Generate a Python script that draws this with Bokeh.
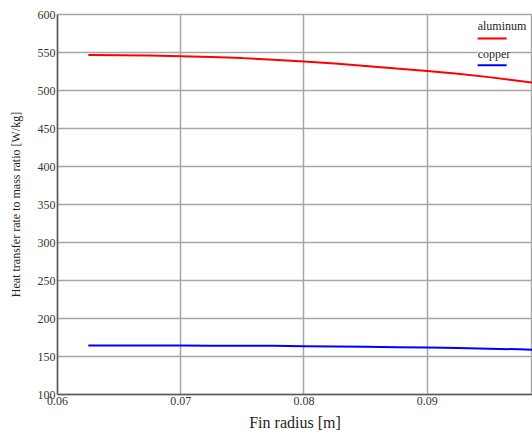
from bokeh.plotting import figure
from bokeh.models import Range1d, FixedTicker, Label
from bokeh.embed import file_html
from bokeh.resources import INLINE

# Data
radius = [0.0625, 0.065, 0.0675, 0.07, 0.0725, 0.075, 0.0775, 0.08, 0.0825,
          0.085, 0.0875, 0.09, 0.0925, 0.095, 0.0975, 0.1]
aluminum = [546.6, 546.4, 545.9, 545.2, 544.1, 542.6, 540.6, 538.2, 535.4,
            532.2, 528.8, 525.8, 522.0, 517.6, 512.6, 507.2]
copper = [164.6, 164.6, 164.5, 164.4, 164.3, 164.2, 164.0, 163.6, 163.2,
          162.8, 162.3, 161.8, 161.1, 160.3, 159.4, 158.4]

x_ticks = [0.06, 0.07, 0.08, 0.09]
y_ticks = [100, 150, 200, 250, 300, 350, 400, 450, 500, 550, 600]
series_names = ["aluminum", "copper"]
series_colors = ["#ff0000", "#0000ff"]

FONT = "Liberation Serif"
X0, X1 = 0.06, 0.09854
Y0, Y1 = 100, 600

p = figure(width=532, height=436, output_backend="svg", toolbar_location=None,
           x_range=Range1d(X0, X1), y_range=Range1d(Y0, Y1),
           min_border_left=57, min_border_right=0, min_border_top=14,
           min_border_bottom=42)

p.line(radius, aluminum, line_color=series_colors[0], line_width=2)
p.line(radius, copper, line_color=series_colors[1], line_width=2)

# axes
p.xaxis.ticker = FixedTicker(ticks=x_ticks)
p.yaxis.ticker = FixedTicker(ticks=y_ticks)
p.xaxis.axis_label = "Fin radius [m]"
p.yaxis.axis_label = "Heat transfer rate to mass ratio [W/kg]"
for ax in (p.xaxis, p.yaxis):
    ax.axis_label_text_font = FONT
    ax.axis_label_text_font_style = "normal"
    ax.axis_label_text_color = "#1e1e1e"
    ax.major_label_text_font = FONT
    ax.major_label_text_font_size = "12px"
    ax.major_label_text_color = "#3a352e"
    ax.axis_line_color = "#5a5a5a"
    ax.axis_line_width = 1.5
    ax.major_tick_in = 0
    ax.major_tick_out = 0
    ax.minor_tick_in = 0
    ax.minor_tick_out = 0
    ax.major_label_standoff = 2
p.xaxis.axis_label_text_font_size = "16px"
p.yaxis.axis_label_text_font_size = "12px"
p.xaxis.axis_label_standoff = 6
p.yaxis.axis_label_standoff = 12

p.xgrid.ticker = FixedTicker(ticks=x_ticks)
p.ygrid.ticker = FixedTicker(ticks=y_ticks)
p.grid.grid_line_color = "#a6a6a6"
p.grid.grid_line_width = 1.5
p.outline_line_color = "#a6a6a6"
p.outline_line_width = 1.5
p.background_fill_color = "white"
p.border_fill_color = "white"

# custom legend: text above a short coloured line
xr = X1 - X0
yr = Y1 - Y0
lx0 = X0 + xr * 0.8845
lx1 = X0 + xr * 0.9455
text_y = [Y0 + yr * 0.9526, Y0 + yr * 0.8764]
line_y = [Y0 + yr * 0.937, Y0 + yr * 0.8664]
for name, col, ty, ly in zip(series_names, series_colors, text_y, line_y):
    p.add_layout(Label(x=lx0, y=ty, text=name, text_font=FONT,
                       text_font_size="12px", text_color="#1e1e1e",
                       background_fill_color="white",
                       text_baseline="bottom"))
    p.segment(x0=[lx0], y0=[ly], x1=[lx1], y1=[ly], line_color=col,
              line_width=2)

open("out.html", "w").write(file_html(p, INLINE))
